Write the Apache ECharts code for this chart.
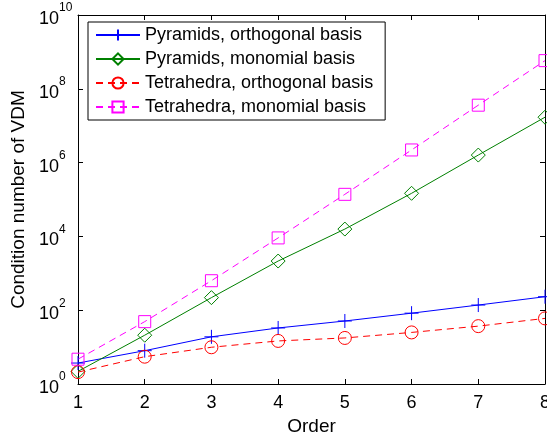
<!DOCTYPE html>
<html>
<head>
<meta charset="utf-8">
<script src="https://cdn.jsdelivr.net/npm/echarts@6/dist/echarts.min.js"></script>
<style>
html,body{margin:0;padding:0;background:#fff;}
#chart{width:547px;height:434px;}
</style>
</head>
<body>
<div id="chart"></div>
<script>
// Data
var orders = [1, 2, 3, 4, 5, 6, 7, 8];
var pyrOrtho = [3.7, 8, 19, 33, 51, 83, 138, 232];
var pyrMono = [2.2, 21, 219, 2150, 15800, 147000, 1.6e6, 1.7e7];
var tetOrtho = [2.1, 5.5, 9.9, 14.7, 17.7, 25, 37, 60];
var tetMono = [4.7, 49, 630, 9100, 138000, 2.2e6, 3.6e7, 5.8e8];
var seriesNames = ['Pyramids, orthogonal basis', 'Pyramids, monomial basis', 'Tetrahedra, orthogonal basis', 'Tetrahedra, monomial basis'];

function pairs(ys) { return orders.map(function (x, i) { return [x, ys[i]]; }); }

var FONT = 'Liberation Sans';
var plusPath = 'path://M0,5L10,5M5,0L5,10';
var circlePath = 'path://M10,5A5,5,0,1,1,0,5A5,5,0,1,1,10,5Z';
var squarePath = 'path://M0,0L10,0L10,10L0,10Z';
var diamondPath = 'path://M5,0L10,5L5,10L0,5Z';

function mk(name, data, color, symbol, size, dashed) {
  return {
    name: name, type: 'line', data: pairs(data),
    symbol: symbol, symbolSize: size, showAllSymbol: true,
    lineStyle: { color: color, width: 1, type: dashed ? [7, 5] : 'solid' },
    itemStyle: { color: 'rgba(0,0,0,0)', borderColor: color, borderWidth: 1 },
    emphasis: { disabled: true }, animation: false
  };
}

var chart = echarts.init(document.getElementById('chart'), null, { renderer: 'canvas' });
var tickStyle = { show: true, inside: true, length: 5, lineStyle: { color: '#000', width: 1 } };
var lineStyle = { show: true, onZero: false, lineStyle: { color: '#000', width: 1 } };

chart.setOption({
  backgroundColor: '#fff',
  animation: false,
  grid: { left: 78, top: 15, right: 2, bottom: 50, containLabel: false, outerBoundsMode: 'none' },
  legend: {
    orient: 'vertical', left: 88, top: 22,
    backgroundColor: '#fff', borderColor: '#000', borderWidth: 1,
    padding: [4, 12, 4, 7], itemGap: 6, itemWidth: 44, itemHeight: 14,
    textStyle: { fontFamily: FONT, fontSize: 18, color: '#000' },
    data: seriesNames
  },
  xAxis: [{
    type: 'value', min: 1, max: 8, interval: 1,
    name: 'Order', nameLocation: 'middle', nameGap: 23,
    nameTextStyle: { fontFamily: FONT, fontSize: 19, color: '#000' },
    axisLine: lineStyle, axisTick: tickStyle, splitLine: { show: false },
    axisLabel: { fontFamily: FONT, fontSize: 18, color: '#000', margin: 10 }
  }, {
    type: 'value', min: 1, max: 8, interval: 1, position: 'top',
    axisLine: lineStyle, axisTick: tickStyle, splitLine: { show: false },
    axisLabel: { show: false }
  }],
  yAxis: [{
    type: 'log', logBase: 10, min: 1, max: 1e10, interval: 2,
    name: 'Condition number of VDM', nameLocation: 'middle', nameGap: 37,
    nameTextStyle: { fontFamily: FONT, fontSize: 19, color: '#000' },
    axisLine: lineStyle, axisTick: tickStyle, splitLine: { show: false },
    minorTick: { show: false },
    axisLabel: {
      margin: 39, align: 'left',
      formatter: function (v) {
        var e = Math.round(Math.log(v) / Math.LN10);
        return '{b|10}{e|' + e + '}';
      },
      rich: {
        b: { fontFamily: FONT, fontSize: 18, color: '#000', lineHeight: 26, verticalAlign: 'bottom' },
        e: { fontFamily: FONT, fontSize: 12, color: '#000', lineHeight: 26, verticalAlign: 'top' }
      }
    }
  }, {
    type: 'log', logBase: 10, min: 1, max: 1e10, interval: 2, position: 'right',
    axisLine: lineStyle, axisTick: tickStyle, splitLine: { show: false },
    axisLabel: { show: false }
  }],
  series: [
    mk(seriesNames[0], pyrOrtho, '#0000ff', plusPath, 14, false),
    mk(seriesNames[1], pyrMono, '#008000', diamondPath, 14, false),
    mk(seriesNames[2], tetOrtho, '#ff0000', circlePath, 13, true),
    mk(seriesNames[3], tetMono, '#ff00ff', squarePath, 12, true)
  ]
});
</script>
</body>
</html>
